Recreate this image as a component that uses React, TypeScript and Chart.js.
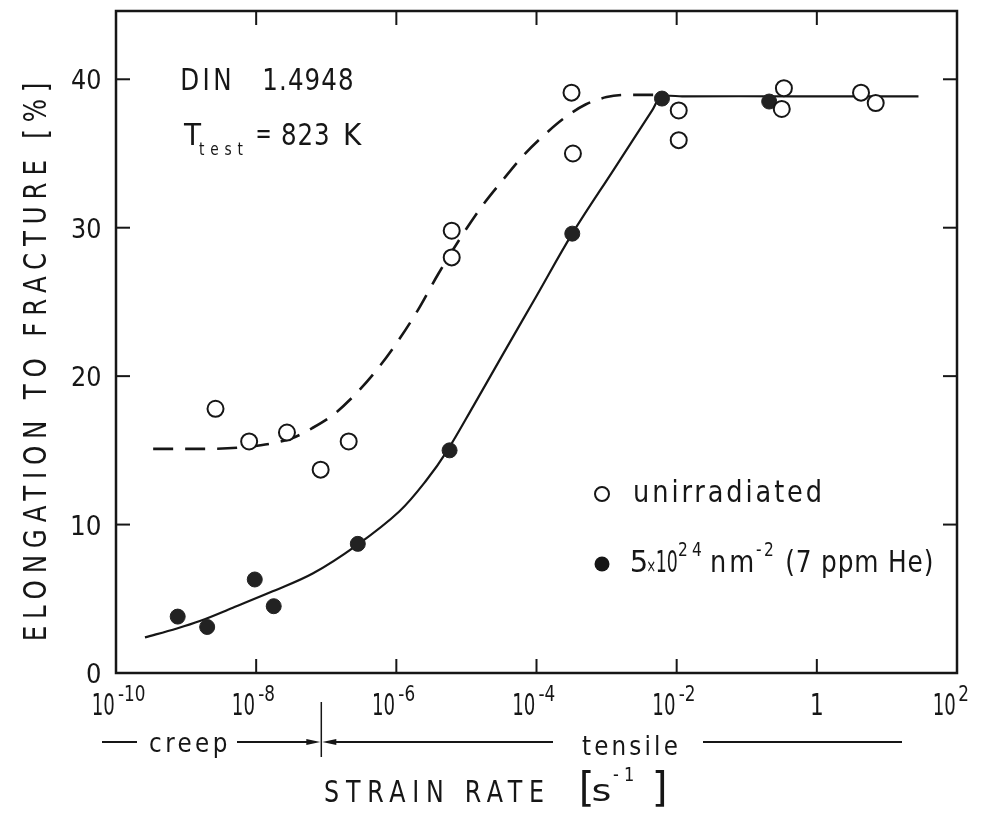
import React, { useEffect, useRef } from 'react';
import { Chart, registerables } from 'chart.js';

Chart.register(...registerables);

const FONT = '"DejaVu Sans Condensed", "DejaVu Sans", "Liberation Sans", sans-serif';
const INK = '#161616';

// ---- data (strain rate in s^-1, elongation in %) ----
const unirradRate = [2.63e-9, 7.94e-9, 2.75e-8, 8.32e-8, 2.09e-7, 6.17e-6, 6.17e-6, 3.16e-4, 3.31e-4, 1.07e-2, 1.07e-2, 0.339, 0.316, 4.27, 6.92];
const unirradElong = [17.8, 15.6, 16.2, 13.7, 15.6, 29.8, 28.0, 39.1, 35.0, 37.9, 35.9, 39.4, 38.0, 39.1, 38.4];

const irradRate = [7.59e-10, 2.0e-9, 9.55e-9, 1.78e-8, 2.82e-7, 5.75e-6, 3.24e-4, 6.17e-3, 0.209];
const irradElong = [3.8, 3.1, 6.3, 4.5, 8.7, 15.0, 29.6, 38.7, 38.5];

const irradCurveRate = [2.59e-10, 7.4e-10, 1.57e-9, 4.65e-9, 1.72e-8, 6.4e-8, 2.71e-7, 1.11e-6, 2.7e-6, 5.36e-6, 1.26e-5, 3.16e-5, 1.0e-4, 3.24e-4, 1.26e-3, 4.47e-3, 6.03e-3, 1.2e-2, 0.5, 28.2];
const irradCurveElong = [2.4, 3.0, 3.5, 4.4, 5.5, 6.7, 8.6, 10.9, 13.0, 15.0, 18.0, 21.3, 25.4, 29.6, 33.9, 37.9, 38.8, 38.85, 38.85, 38.85];

const unirradCurveRate = [3.39e-10, 1.58e-9, 7.94e-9, 3.16e-8, 6.31e-8, 1.26e-7, 2.51e-7, 5.01e-7, 1.0e-6, 2.0e-6, 3.98e-6, 7.94e-6, 1.58e-5, 3.16e-5, 6.31e-5, 1.26e-4, 2.51e-4, 5.01e-4, 1.0e-3, 2.0e-3, 5.62e-3];
const unirradCurveElong = [15.1, 15.1, 15.25, 15.8, 16.5, 17.4, 18.7, 20.3, 22.2, 24.4, 26.9, 29.2, 31.3, 33.1, 34.8, 36.2, 37.4, 38.3, 38.8, 38.95, 38.95];

const xTickValues = [1e-10, 1e-8, 1e-6, 1e-4, 1e-2, 1, 1e2];
const xTickBase = ['10', '10', '10', '10', '10', '1', '10'];
const xTickExp = ['-10', '-8', '-6', '-4', '-2', '', '2'];
const yTickValues = [0, 10, 20, 30, 40];
const yTickLabels = ['0', '10', '20', '30', '40'];
const creepTensileBoundary = 8.5e-8;

const yTitle = 'ELONGATION TO FRACTURE [%]';
const xTitle = 'STRAIN RATE';
const legendOpen = 'unirradiated';

const pts = (xs: number[], ys: number[]) => xs.map((x, i) => ({ x, y: ys[i] }));

// text helper: positions by ink box; fits width by letter spacing (multi-char) or scaling
function t(ctx: CanvasRenderingContext2D, s: string, x: number, y: number, size: number, w: number, align: 'left' | 'right' | 'center' = 'left', sx = 0.88, spaced = false) {
  ctx.font = `${size}px ${FONT}`;
  ctx.textAlign = 'left';
  ctx.textBaseline = 'alphabetic';
  const anyCtx = ctx as any;
  anyCtx.letterSpacing = '0px';
  let m = ctx.measureText(s);
  let iw = m.actualBoundingBoxLeft + m.actualBoundingBoxRight;
  let scale = sx;
  if (w > 0) {
    if (spaced && s.length > 1) {
      const ls = (w / sx - iw) / (s.length - 1);
      anyCtx.letterSpacing = `${ls}px`;
      m = ctx.measureText(s);
      iw = m.actualBoundingBoxLeft + m.actualBoundingBoxRight;
      scale = w / iw;
    } else {
      scale = w / iw;
    }
  }
  const W = iw * scale;
  const left = align === 'left' ? x : align === 'right' ? x - W : x - W / 2;
  ctx.save();
  ctx.translate(left + m.actualBoundingBoxLeft * scale, y);
  ctx.scale(scale, 1);
  ctx.fillText(s, 0, 0);
  ctx.restore();
  anyCtx.letterSpacing = '0px';
}

function seg(ctx: CanvasRenderingContext2D, x1: number, y1: number, x2: number, y2: number) {
  ctx.beginPath();
  ctx.moveTo(x1, y1);
  ctx.lineTo(x2, y2);
  ctx.stroke();
}

function arrowHead(ctx: CanvasRenderingContext2D, tipX: number, y: number, dir: number) {
  ctx.beginPath();
  ctx.moveTo(tipX, y);
  ctx.lineTo(tipX - dir * 14, y - 3);
  ctx.lineTo(tipX - dir * 14, y + 3);
  ctx.closePath();
  ctx.fill();
}

const overlay = {
  id: 'overlay',
  afterDraw(chart: any) {
    const { ctx, chartArea: a } = chart;
    const xs = chart.scales.x;
    const ys = chart.scales.y;
    ctx.save();
    ctx.strokeStyle = INK;
    ctx.fillStyle = INK;
    ctx.lineCap = 'butt';

    // frame
    ctx.lineWidth = 2.5;
    ctx.strokeRect(a.left, a.top, a.right - a.left, a.bottom - a.top);

    // inward ticks
    ctx.lineWidth = 2;
    const TL = 14;
    xTickValues.forEach((v) => {
      const px = xs.getPixelForValue(v);
      if (px <= a.left + 2 || px >= a.right - 2) return;
      seg(ctx, px, a.bottom, px, a.bottom - TL);
      seg(ctx, px, a.top, px, a.top + TL);
    });
    yTickValues.forEach((v) => {
      const py = ys.getPixelForValue(v);
      if (py >= a.bottom - 2 || py <= a.top + 2) return;
      seg(ctx, a.left, py, a.left + TL, py);
      seg(ctx, a.right, py, a.right - TL, py);
    });

    // x tick labels
    xTickValues.forEach((v, i) => {
      const px = xs.getPixelForValue(v);
      if (xTickExp[i]) {
        t(ctx, xTickBase[i], px - 2, 715, 30, 21, 'right');
        t(ctx, xTickExp[i], px + 2, 701, 22, 0, 'left', 0.85);
      } else {
        t(ctx, xTickBase[i], px, 715, 30, 0, 'center', 0.8);
      }
    });

    // y tick labels
    yTickValues.forEach((v, i) => {
      const py = ys.getPixelForValue(v);
      const lab = yTickLabels[i];
      t(ctx, lab, 100, py + 10, 27, lab.length === 1 ? 13 : 28, 'right');
    });

    // y title (rotated)
    ctx.save();
    ctx.translate(46, 362);
    ctx.rotate(-Math.PI / 2);
    t(ctx, yTitle, 0, 0, 32, 555, 'center', 0.85, true);
    ctx.restore();

    // annotation box texts
    t(ctx, 'DIN', 182, 90, 31, 48, 'left', 0.88, true);
    t(ctx, '1.4948', 265, 90, 31, 87, 'left', 0.88, true);
    t(ctx, 'T', 183, 145, 31, 19, 'left');
    t(ctx, 'test', 199, 155, 17, 44, 'left', 0.9, true);
    t(ctx, '=', 257, 143, 28, 13, 'left');
    t(ctx, '823', 282, 145, 31, 46, 'left', 0.88, true);
    t(ctx, 'K', 345, 145, 31, 17, 'left');

    // legend
    ctx.lineWidth = 2;
    ctx.beginPath();
    ctx.arc(602, 494, 7, 0, Math.PI * 2);
    ctx.fillStyle = '#fff';
    ctx.fill();
    ctx.stroke();
    ctx.fillStyle = INK;
    t(ctx, legendOpen, 635, 502, 30, 185, 'left', 0.95, true);
    ctx.beginPath();
    ctx.arc(602, 564, 7.5, 0, Math.PI * 2);
    ctx.fill();
    t(ctx, '5', 632, 572, 30, 14, 'left');
    t(ctx, '\u00d7', 648, 572, 18, 7, 'left');
    t(ctx, '10', 657, 572, 30, 20, 'left');
    t(ctx, '24', 679, 556, 19, 22, 'left', 0.9, true);
    t(ctx, 'nm', 712, 572, 30, 41, 'left', 0.95, true);
    t(ctx, '-2', 756, 556, 19, 17, 'left', 0.9, true);
    t(ctx, '(7 ppm He)', 787, 572, 30, 145, 'left', 0.92, true);

    // creep / tensile line
    const yb = 742;
    const bx = xs.getPixelForValue(creepTensileBoundary);
    ctx.lineWidth = 2;
    seg(ctx, 102, yb, 137, yb);
    t(ctx, 'creep', 150, 752, 27, 77, 'left', 0.95, true);
    seg(ctx, 237, yb, bx - 6, yb);
    arrowHead(ctx, bx - 1, yb, 1);
    ctx.lineWidth = 1.5;
    seg(ctx, bx, 702, bx, 757);
    ctx.lineWidth = 2;
    arrowHead(ctx, bx + 1, yb, -1);
    seg(ctx, bx + 6, yb, 553, yb);
    t(ctx, 'tensile', 582, 755, 27, 95, 'left', 0.95, true);
    seg(ctx, 703, yb, 902, yb);

    // x title
    t(ctx, xTitle, 325, 802, 30, 218, 'left', 0.88, true);
    t(ctx, '[', 582, 801, 40, 9, 'left');
    t(ctx, 's', 593, 801, 30, 17, 'left');
    t(ctx, '-1', 613, 781, 20, 20, 'left', 0.9, true);
    t(ctx, ']', 664, 801, 40, 9, 'right');

    ctx.restore();
  },
};

export default function App() {
  const ref = useRef<HTMLCanvasElement | null>(null);
  useEffect(() => {
    if (!ref.current) return;
    const chart = new Chart(ref.current, {
      type: 'scatter',
      data: {
        datasets: [
          {
            label: 'unirradiated',
            data: pts(unirradRate, unirradElong),
            pointRadius: 8,
            pointBorderWidth: 2,
            pointBackgroundColor: '#ffffff',
            pointBorderColor: INK,
            showLine: false,
          } as any,
          {
            label: '5x10^24 nm^-2 (7 ppm He)',
            data: pts(irradRate, irradElong),
            pointRadius: 7.5,
            pointBorderWidth: 1,
            pointBackgroundColor: '#222222',
            pointBorderColor: '#222222',
            showLine: false,
          } as any,
          {
            label: 'irradiated fit',
            data: pts(irradCurveRate, irradCurveElong),
            showLine: true,
            pointRadius: 0,
            borderColor: INK,
            borderWidth: 2.2,
            tension: 0.35,
            fill: false,
          } as any,
          {
            label: 'unirradiated fit',
            data: pts(unirradCurveRate, unirradCurveElong),
            showLine: true,
            pointRadius: 0,
            borderColor: INK,
            borderWidth: 2.6,
            borderDash: [20, 12],
            cubicInterpolationMode: 'monotone',
            fill: false,
          } as any,
        ],
      },
      options: {
        animation: false,
        responsive: false,
        devicePixelRatio: 1,
        events: [],
        layout: { padding: { left: 116, right: 25, top: 11, bottom: 143 } },
        plugins: { legend: { display: false }, tooltip: { enabled: false } },
        scales: {
          x: { type: 'logarithmic', min: 1e-10, max: 1e2, display: false },
          y: { type: 'linear', min: 0, max: 44.6, display: false },
        },
      } as any,
      plugins: [overlay],
    });
    return () => chart.destroy();
  }, []);
  return (
    <div style={{ position: 'absolute', left: 0, top: 0, width: 982, height: 816, background: '#fff' }}>
      <canvas ref={ref} width={982} height={816} style={{ display: 'block', width: 982, height: 816 }} />
    </div>
  );
}
